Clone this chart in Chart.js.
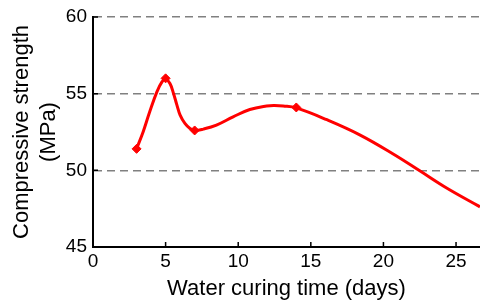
<!DOCTYPE html>
<html>
<head>
<meta charset="utf-8">
<script src="https://cdn.jsdelivr.net/npm/chart.js@4.4.0/dist/chart.umd.min.js"></script>
<style>
  html, body { margin: 0; padding: 0; background: #fff; }
  #wrap { width: 480px; height: 302px; }
</style>
</head>
<body>
<div id="wrap"><canvas id="strengthChart" width="480" height="302"></canvas></div>
<script>
// measured specimens
var testDays = [3, 5, 7, 14];
var testStrength = [51.4, 56.0, 52.6, 54.1];

// fitted curve
var curveDays = [3, 3.45, 3.9, 4.4, 4.75, 5, 5.3, 5.55, 5.78, 6, 6.33, 6.68, 7, 7.6, 8.5, 9.65, 10.8, 11.95, 12.5, 13.1, 14, 16.1, 18.4, 20.7, 22.5, 24.35, 26.65];
var curveStrength = [51.4, 52.5, 53.8, 55.12, 55.77, 55.95, 55.66, 55.0, 54.25, 53.6, 53.06, 52.73, 52.6, 52.69, 52.95, 53.49, 53.97, 54.2, 54.23, 54.2, 54.07, 53.3, 52.3, 51.05, 49.97, 48.85, 47.62];

var xTicks = [0, 5, 10, 15, 20, 25];
var yTicks = [45, 50, 55, 60];

var font = 'Liberation Sans, Arial, sans-serif';

function toPoints(xs, ys) {
	var pts = [];
	for (var i = 0; i < xs.length; i++) {
		pts.push({x: xs[i], y: ys[i]});
	}
	return pts;
}

// matlab style inward tick marks
var innerTicks = {
	id: 'innerTicks',
	afterDraw: function(chart) {
		var ctx = chart.ctx;
		var xs = chart.scales.x, ys = chart.scales.y;
		var area = chart.chartArea;
		ctx.save();
		ctx.strokeStyle = '#000';
		ctx.lineWidth = 1.5;
		ctx.beginPath();
		xTicks.forEach(function(v) {
			if (v === 0) return;
			var px = xs.getPixelForValue(v);
			ctx.moveTo(px, area.bottom);
			ctx.lineTo(px, area.bottom - 5);
		});
		yTicks.forEach(function(v) {
			if (v === 45) return;
			var py = ys.getPixelForValue(v);
			ctx.moveTo(area.left, py);
			ctx.lineTo(area.left + 5, py);
		});
		ctx.stroke();
		ctx.restore();
	}
};

new Chart(document.getElementById('strengthChart').getContext('2d'), {
	type: 'scatter',
	data: {
		datasets: [{
			label: 'fit',
			data: toPoints(curveDays, curveStrength),
			showLine: true,
			borderColor: '#ff0000',
			borderWidth: 3,
			pointRadius: 0,
			tension: 0.4,
			fill: false,
			order: 2
		}, {
			label: 'measured',
			data: toPoints(testDays, testStrength),
			showLine: false,
			pointStyle: 'rectRot',
			pointRadius: 4.5,
			backgroundColor: '#ff0000',
			borderColor: '#ff0000',
			borderWidth: 1,
			order: 1
		}]
	},
	options: {
		responsive: false,
		animation: false,
		layout: { autoPadding: false, padding: { top: 17, right: 0, left: 0, bottom: 0 } },
		plugins: {
			legend: { display: false },
			tooltip: { enabled: false }
		},
		scales: {
			x: {
				type: 'linear',
				min: 0,
				max: 26.65,
				afterFit: function(s) {
					s.height = 55;
					s.paddingLeft = 0;
					s.paddingRight = 0;
				},
				afterBuildTicks: function(s) {
					s.ticks = xTicks.map(function(v) { return {value: v}; });
				},
				ticks: {
					color: '#000',
					font: { family: font, size: 19 },
					padding: 3,
					maxRotation: 0
				},
				grid: { display: false, drawTicks: false },
				border: { display: true, color: '#000', width: 2 },
				title: {
					display: true,
					text: 'Water curing time (days)',
					color: '#000',
					font: { family: font, size: 22 },
					padding: { top: 0, bottom: 0 }
				}
			},
			y: {
				min: 45,
				max: 60,
				afterFit: function(s) {
					s.width = 93;
					s.paddingTop = 0;
					s.paddingBottom = 0;
				},
				afterBuildTicks: function(s) {
					s.ticks = yTicks.map(function(v) { return {value: v}; });
				},
				ticks: {
					color: '#000',
					font: { family: font, size: 19 },
					padding: 6
				},
				grid: {
					drawTicks: false,
					color: function(c) { return c.tick && c.tick.value === 45 ? 'rgba(0,0,0,0)' : '#808080'; },
					lineWidth: 1.5
				},
				border: { display: true, color: '#000', width: 2, dash: [8, 5] },
				title: {
					display: true,
					text: ['Compressive strength', '(MPa)'],
					color: '#000',
					font: { family: font, size: 22, lineHeight: 1.25 },
					padding: { top: 8, bottom: 0 }
				}
			}
		}
	},
	plugins: [innerTicks]
});
</script>
</body>
</html>
